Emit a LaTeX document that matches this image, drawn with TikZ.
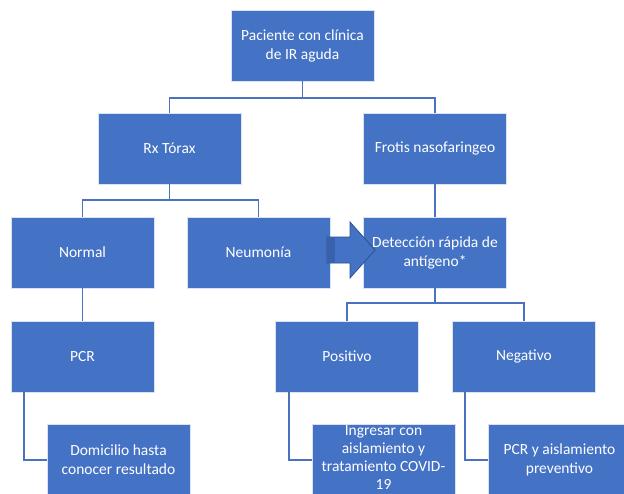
\documentclass[tikz,border=0pt]{standalone}
\usepackage{fontspec}
\setmainfont{Carlito}
\definecolor{boxblue}{HTML}{4472C4}
\definecolor{linblue}{HTML}{4A72C0}
\definecolor{arrdark}{HTML}{2F528F}
\definecolor{arrband}{HTML}{3A62AC}
\begin{document}
\begin{tikzpicture}[x=1pt,y=-1pt,
  blk/.style={rectangle, fill=boxblue, draw=white!80!boxblue, line width=0.6pt,
    minimum width=143pt, minimum height=71pt, inner sep=0pt, text=white,
    align=center, font=\fontsize{15.5}{19}\selectfont},
  conn/.style={draw=linblue, line width=1.6pt}]
\clip (0,0) rectangle (624,493);
\fill[white] (0,0) rectangle (624,493);
% boxes
\node[blk] (top)    at (302.5,45.5)  {Paciente con clínica\\de IR aguda};
\node[blk] (rx)     at (169.5,148.5) {Rx Tórax};
\node[blk] (frotis) at (435,148.5)   {Frotis nasofaringeo};
\node[blk] (normal) at (82.5,252.5)  {Normal};
\node[blk] (neum)   at (258.5,252.5) {Neumonía};
\node[blk] (det)    at (435,252.5)   {Detección rápida de\\antígeno*};
\node[blk] (pcr)    at (82.5,356.5)  {PCR};
\node[blk] (pos)    at (347,356.5)   {Positivo};
\node[blk] (neg)    at (524,356.5)   {Negativo};
\node[blk] (dom)    at (118.5,460)   {Domicilio hasta\\conocer resultado};
\node[blk, font=\fontsize{15.5}{18}\selectfont] (ing) at (383.5,460) {};
\node[text=white, align=center, inner sep=0pt, font=\fontsize{15.5}{18}\selectfont]
  (ingtxt) at ([yshift=2pt]ing.center) {Ingresar con\\aislamiento y\\tratamiento COVID-\\19};
\node[blk] (pcra)   at (559.5,460)   {PCR y aislamiento\\preventivo};
% bus coordinates
\coordinate (bus1) at (0,98);
\coordinate (bus2) at (0,200);
\coordinate (bus3) at (0,303);
% connectors
\draw[conn] (top.south) -- (top.south |- bus1);
\draw[conn] (rx.north) |- (top.south |- bus1);
\draw[conn] (frotis.north) |- (top.south |- bus1);
\draw[conn] (rx.south) -- (rx.south |- bus2);
\draw[conn] (normal.north) |- (rx.south |- bus2);
\draw[conn] (neum.north) |- (rx.south |- bus2);
\draw[conn] (frotis.south) -- (det.north);
\draw[conn] (normal.south) -- (pcr.north);
\draw[conn] (det.south) -- (det.south |- bus3);
\draw[conn] (pos.north) |- (det.south |- bus3);
\draw[conn] (neg.north) |- (det.south |- bus3);
\draw[conn] ([xshift=13pt]pcr.south west) |- (dom.west);
\draw[conn] ([xshift=14pt]pos.south west) |- (ing.west);
\draw[conn] ([xshift=13pt]neg.south west) |- (pcra.west);
% block arrow from Neumonia to Deteccion
\filldraw[fill=boxblue, draw=arrdark, line width=0.8pt]
  (327,237) -- (350,237) -- (350,222) -- (375,250) -- (350,278) -- (350,263) -- (327,263) -- cycle;
\fill[arrband] (327.4,237.4) rectangle (335,262.6);
\end{tikzpicture}
\end{document}
